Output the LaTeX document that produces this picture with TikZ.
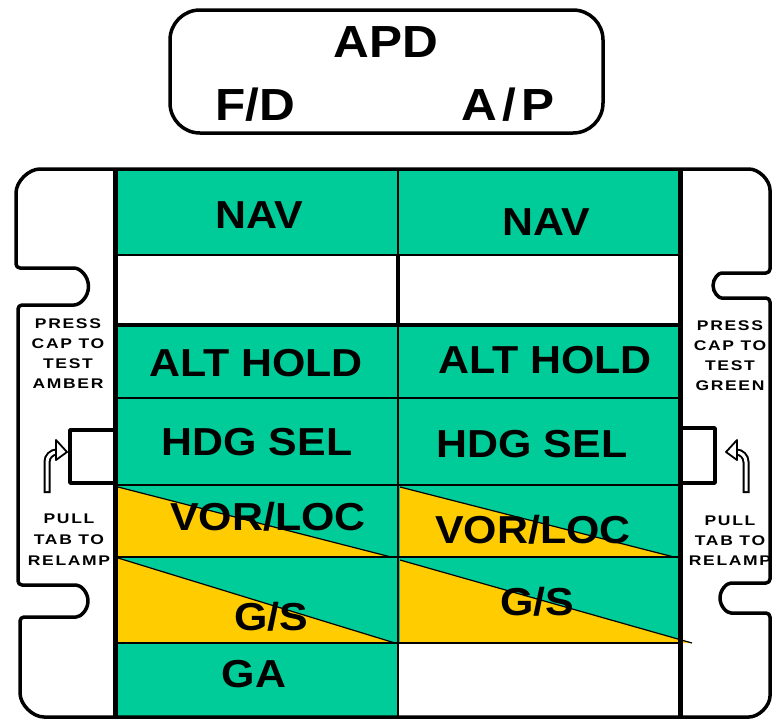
\documentclass[tikz,border=0pt]{standalone}
\usepackage{fontspec}
\newfontfamily\lampfont{Liberation Sans}[FakeStretch=1.1]
\newfontfamily\capfont{Liberation Sans}[FakeStretch=1.25,LetterSpace=12]
\definecolor{APDGreen}{RGB}{0,204,153}
\definecolor{APDAmber}{RGB}{255,204,0}
\usepackage{tikz}
\usetikzlibrary{positioning, calc}

\tikzset{
  frame/.style={line width=3.5pt, line join=round},
  rule/.style={line width=1.2pt},
  lamp/.style={font=\lampfont\bfseries\fontsize{39}{39}\selectfont, inner sep=0pt, anchor=base},
  title/.style={font=\lampfont\bfseries\fontsize{45}{45}\selectfont, inner sep=0pt, anchor=base},
  caplabel/.style={font=\capfont\bfseries\fontsize{14}{14}\selectfont, inner sep=0pt, anchor=base}
}

\begin{document}
\begin{tikzpicture}[x=1pt,y=1pt]
\useasboundingbox (0,0) rectangle (775,-720);

% label plate
\draw[frame, rounded corners=30pt] (170,-10) rectangle (603,-133);
\node[title] (apd) at (386,-57) {APD};
\node[title] (fd) at (255,-120) {F/D};
\node[title] (ap) at (508,-120) {A\kern5pt/\kern5pt P};

% side texts
\foreach \t [count=\i] in {PRESS,CAP TO,TEST,AMBER}
  \node[caplabel] (amber-\i) at (68,-308-20*\i) {\t};
\foreach \t [count=\i] in {PRESS,CAP TO,TEST,GREEN}
  \node[caplabel] (green-\i) at (730,-310-20*\i) {\t};
\foreach \t [count=\i] in {PULL,TAB TO,RELAMP}
  \node[caplabel] (pullL-\i) at (69,-502-21*\i) {\t};
\foreach \t [count=\i] in {PULL,TAB TO,RELAMP}
  \node[caplabel] (pullR-\i) at (730,-505-20*\i) {\t};

% lamp fields
\fill[APDGreen] (115,-169) rectangle (680,-255);
\fill[APDGreen] (115,-325) rectangle (680,-643);
\fill[APDGreen] (115,-643) rectangle (398,-717);
\fill[APDAmber] (118,-487) -- (118,-557) -- (391,-557) -- cycle;
\fill[APDAmber] (400,-487) -- (400,-557) -- (674,-557) -- cycle;
\fill[APDAmber] (118,-558) -- (118,-643) -- (395,-643) -- cycle;
\fill[APDAmber] (400,-560) -- (400,-643) -- (692,-643) -- cycle;
\draw[rule] (118,-487) -- (391,-557);
\draw[rule] (400,-487) -- (674,-557);
\draw[rule] (118,-558) -- (395,-643);
\draw[rule] (400,-560) -- (692,-643);

\draw[rule] (115,-255) -- (680,-255);
\draw[line width=4.5pt] (115,-325) -- (680,-325);
\foreach \y in {398,485,557,643}
  \draw[rule] (115,-\y) -- (680,-\y);
\draw[rule] (398,-169) -- (398,-717);
\draw[line width=4pt] (398,-255) -- (398,-325);
\draw[line width=5pt] (115,-169) -- (115,-717);
\draw[line width=5pt] (680,-169) -- (680,-717);

\node[lamp] (navL) at (259,-228) {NAV};
\node[lamp] (navR) at (546,-235) {NAV};
\node[lamp] (altL) at (256,-376) {ALT HOLD};
\node[lamp] (altR) at (545,-373) {ALT HOLD};
\node[lamp] (hdgL) at (257,-455) {HDG SEL};
\node[lamp] (hdgR) at (532,-457) {HDG SEL};
\node[lamp] (vorL) at (268,-530) {VOR/LOC};
\node[lamp] (vorR) at (533,-543) {VOR/LOC};
\node[lamp] (gsL) at (271,-630) {G/S};
\node[lamp] (gsR) at (537,-615) {G/S};
\node[lamp] (ga) at (254,-687) {GA};

% pull tabs
\draw[frame] (113,-430) -- (70,-430) -- (70,-483) -- (113,-483);
\draw[frame] (680,-428) -- (715,-428) -- (715,-483) -- (680,-483);
\draw[line width=7pt] (47,-493) -- (47,-462) arc[start angle=180,end angle=90,radius=10];
\draw[white, line width=3pt] (47,-491) -- (47,-462) arc[start angle=180,end angle=90,radius=10];
\filldraw[fill=white, line width=1.8pt, line join=round] (56,-440) -- (67,-452) -- (56,-460) -- cycle;
\draw[line width=7pt] (746,-493) -- (746,-462) arc[start angle=0,end angle=90,radius=10];
\draw[white, line width=3pt] (746,-491) -- (746,-462) arc[start angle=0,end angle=90,radius=10];
\filldraw[fill=white, line width=1.8pt, line join=round] (737,-440) -- (726,-452) -- (737,-460) -- cycle;

% outer case
\draw[frame, rounded corners=4pt] (400,-169) -- (745,-169)
  arc[start angle=90,end angle=0,radius=25] -- (770,-273) -- (725.5,-273)
  arc[start angle=90,end angle=270,radius=12.5] -- (770,-298) -- (770,-583) -- (735,-583)
  arc[start angle=90,end angle=270,radius=15] -- (770,-613) -- (770,-692)
  arc[start angle=0,end angle=-90,radius=25] -- (48,-717)
  arc[start angle=270,end angle=180,radius=28] -- (20,-617) -- (72,-617)
  arc[start angle=-90,end angle=90,radius=16] -- (18,-585) -- (18,-305) -- (70,-305)
  arc[start angle=-90,end angle=90,radius=18.5] -- (16,-268) -- (16,-197)
  arc[start angle=180,end angle=90,radius=28] -- cycle;
\end{tikzpicture}
\end{document}
